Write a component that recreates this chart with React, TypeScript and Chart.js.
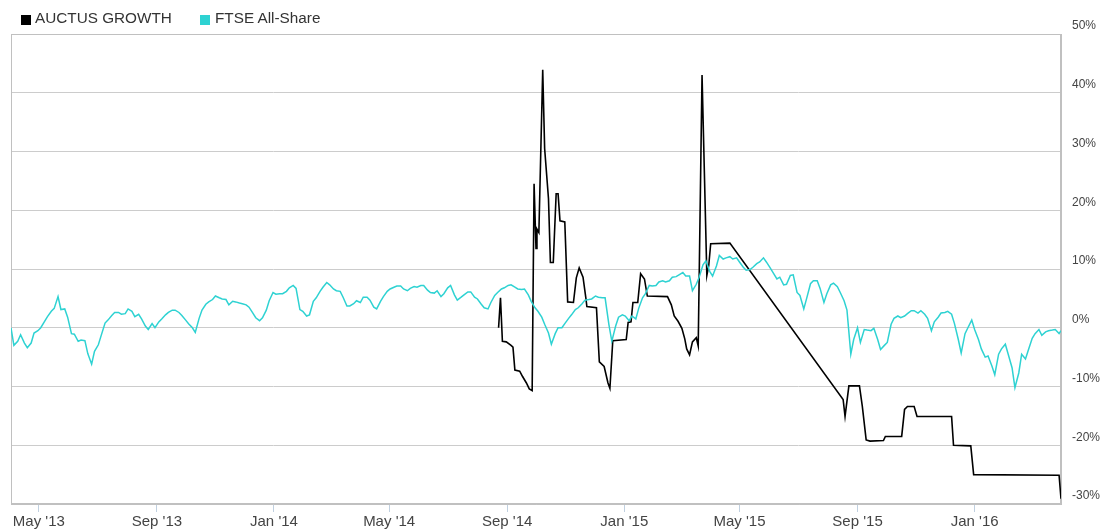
import { useEffect, useRef } from "react";
import { Chart, registerables } from "chart.js";

Chart.register(...registerables);

const seriesNames = ["AUCTUS GROWTH", "FTSE All-Share"];
const seriesColors = ["#000000", "#2ED2D2"];

const ftseDates = [
  "2013-04-02", "2013-04-05", "2013-04-09", "2013-04-12", "2013-04-16", "2013-04-19", "2013-04-23", "2013-04-26", "2013-04-30",
  "2013-05-03", "2013-05-07", "2013-05-10", "2013-05-14", "2013-05-17", "2013-05-21", "2013-05-24", "2013-05-28", "2013-05-31",
  "2013-06-04", "2013-06-07", "2013-06-11", "2013-06-14", "2013-06-18", "2013-06-21", "2013-06-25", "2013-06-28",
  "2013-07-02", "2013-07-05", "2013-07-09", "2013-07-12", "2013-07-16", "2013-07-19", "2013-07-23", "2013-07-26", "2013-07-30",
  "2013-08-02", "2013-08-06", "2013-08-09", "2013-08-13", "2013-08-16", "2013-08-20", "2013-08-23", "2013-08-27", "2013-08-30",
  "2013-09-03", "2013-09-06", "2013-09-10", "2013-09-13", "2013-09-17", "2013-09-20", "2013-09-24", "2013-09-27",
  "2013-10-01", "2013-10-04", "2013-10-08", "2013-10-11", "2013-10-15", "2013-10-18", "2013-10-22", "2013-10-25", "2013-10-29",
  "2013-11-01", "2013-11-05", "2013-11-08", "2013-11-12", "2013-11-15", "2013-11-19", "2013-11-22", "2013-11-26", "2013-11-29",
  "2013-12-03", "2013-12-06", "2013-12-10", "2013-12-13", "2013-12-17", "2013-12-20", "2013-12-24", "2013-12-27", "2013-12-31",
  "2014-01-03", "2014-01-07", "2014-01-10", "2014-01-14", "2014-01-17", "2014-01-21", "2014-01-24", "2014-01-28", "2014-01-31",
  "2014-02-04", "2014-02-07", "2014-02-11", "2014-02-14", "2014-02-18", "2014-02-21", "2014-02-25", "2014-02-28",
  "2014-03-04", "2014-03-07", "2014-03-11", "2014-03-14", "2014-03-18", "2014-03-21", "2014-03-25", "2014-03-28",
  "2014-04-01", "2014-04-04", "2014-04-08", "2014-04-11", "2014-04-15", "2014-04-18", "2014-04-22", "2014-04-25", "2014-04-29",
  "2014-05-02", "2014-05-06", "2014-05-09", "2014-05-13", "2014-05-16", "2014-05-20", "2014-05-23", "2014-05-27", "2014-05-30",
  "2014-06-03", "2014-06-06", "2014-06-10", "2014-06-13", "2014-06-17", "2014-06-20", "2014-06-24", "2014-06-27",
  "2014-07-01", "2014-07-04", "2014-07-08", "2014-07-11", "2014-07-15", "2014-07-18", "2014-07-22", "2014-07-25", "2014-07-29",
  "2014-08-01", "2014-08-05", "2014-08-08", "2014-08-12", "2014-08-15", "2014-08-19", "2014-08-22", "2014-08-26", "2014-08-29",
  "2014-09-02", "2014-09-05", "2014-09-09", "2014-09-12", "2014-09-16", "2014-09-19", "2014-09-23", "2014-09-26", "2014-09-30",
  "2014-10-03", "2014-10-07", "2014-10-10", "2014-10-14", "2014-10-17", "2014-10-21", "2014-10-24", "2014-10-28", "2014-10-31",
  "2014-11-04", "2014-11-07", "2014-11-11", "2014-11-14", "2014-11-18", "2014-11-21", "2014-11-25", "2014-11-28",
  "2014-12-02", "2014-12-05", "2014-12-09", "2014-12-12", "2014-12-16", "2014-12-19", "2014-12-23", "2014-12-26", "2014-12-30",
  "2015-01-02", "2015-01-06", "2015-01-09", "2015-01-13", "2015-01-16", "2015-01-20", "2015-01-23", "2015-01-27", "2015-01-30",
  "2015-02-03", "2015-02-06", "2015-02-10", "2015-02-13", "2015-02-17", "2015-02-20", "2015-02-24", "2015-02-27",
  "2015-03-03", "2015-03-06", "2015-03-10", "2015-03-13", "2015-03-17", "2015-03-20", "2015-03-24", "2015-03-27", "2015-03-31",
  "2015-04-03", "2015-04-07", "2015-04-10", "2015-04-14", "2015-04-17", "2015-04-21", "2015-04-24", "2015-04-28",
  "2015-05-01", "2015-05-05", "2015-05-08", "2015-05-12", "2015-05-15", "2015-05-19", "2015-05-22", "2015-05-26", "2015-05-29",
  "2015-06-02", "2015-06-05", "2015-06-09", "2015-06-12", "2015-06-16", "2015-06-19", "2015-06-23", "2015-06-26", "2015-06-30",
  "2015-07-03", "2015-07-07", "2015-07-10", "2015-07-14", "2015-07-17", "2015-07-21", "2015-07-24", "2015-07-28", "2015-07-31",
  "2015-08-04", "2015-08-07", "2015-08-11", "2015-08-14", "2015-08-18", "2015-08-21", "2015-08-25", "2015-08-28",
  "2015-09-01", "2015-09-04", "2015-09-08", "2015-09-11", "2015-09-15", "2015-09-18", "2015-09-22", "2015-09-25", "2015-09-29",
  "2015-10-02", "2015-10-06", "2015-10-09", "2015-10-13", "2015-10-16", "2015-10-20", "2015-10-23", "2015-10-27", "2015-10-30",
  "2015-11-03", "2015-11-06", "2015-11-10", "2015-11-13", "2015-11-17", "2015-11-20", "2015-11-24", "2015-11-27",
  "2015-12-01", "2015-12-04", "2015-12-08", "2015-12-11", "2015-12-15", "2015-12-18", "2015-12-22", "2015-12-25", "2015-12-29",
  "2016-01-01", "2016-01-05", "2016-01-08", "2016-01-12", "2016-01-15", "2016-01-19", "2016-01-22", "2016-01-26", "2016-01-29",
  "2016-02-02", "2016-02-05", "2016-02-09", "2016-02-12", "2016-02-16", "2016-02-19", "2016-02-23", "2016-02-26",
  "2016-03-01", "2016-03-04", "2016-03-08", "2016-03-11", "2016-03-15", "2016-03-18", "2016-03-22", "2016-03-25", "2016-03-29", "2016-03-31",
];

const ftseValues = [
  0, -3.0, -2.3, -1.2, -2.6, -3.4, -2.6, -0.9, -0.5,
  0, 1.1, 1.9, 2.8, 3.3, 5.3, 3.1, 3.2, 1.8,
  -1.0, -1.1, -2.3, -2.1, -2.2, -4.4, -6.2, -4.0,
  -2.9, -1.3, 0.8, 1.3, 2.1, 2.6, 2.6, 2.3, 2.4,
  3.2, 2.8, 1.9, 2.3, 1.5, 0.3, -0.3, 0.7, 0,
  1.0, 1.5, 2.2, 2.6, 3.0, 3.0, 2.6, 2.1,
  1.3, 0.7, 0, -0.8, 1.6, 3.0, 4.0, 4.4, 4.8,
  5.4, 5.1, 4.9, 4.8, 3.9, 4.5, 4.4, 4.2, 4.1,
  3.9, 3.5, 2.5, 1.7, 1.2, 1.7, 3.0, 4.6, 6.0,
  5.7, 5.8, 5.8, 6.2, 6.8, 7.2, 6.7, 3.1, 2.8,
  2.0, 2.2, 4.5, 5.1, 6.2, 6.9, 7.7, 7.3,
  6.6, 6.3, 6.2, 5.2, 3.7, 3.7, 4.1, 4.6,
  4.3, 5.2, 5.2, 4.7, 3.5, 3.2, 4.5, 5.3, 6.2,
  6.6, 6.9, 7.1, 7.1, 6.6, 6.3, 6.7, 7.0, 6.9,
  7.2, 7.2, 6.4, 6.0, 5.9, 6.3, 5.3, 5.8,
  6.8, 7.2, 5.6, 4.7, 5.2, 5.6, 6.1, 6.1, 5.2,
  4.9, 4.0, 3.4, 3.2, 4.3, 5.5, 6.0, 6.6, 6.8,
  7.2, 7.3, 6.9, 6.6, 6.5, 6.6, 5.6, 4.5, 3.4,
  2.8, 1.8, 0.6, -0.9, -2.8, -1.0, 0, 0, 0.7,
  1.6, 2.2, 3.1, 3.4, 4.1, 4.7, 4.8, 4.9,
  5.4, 5.2, 5.1, 5.1, 0.5, -2.3, 0.3, 1.8, 2.2,
  2.0, 1.2, 2.0, 1.5, 3.3, 5.1, 5.8, 7.2, 7.1,
  7.2, 7.8, 8.0, 7.8, 8.0, 8.6, 8.7, 9.0,
  9.4, 8.8, 8.8, 6.3, 7.4, 8.6, 10.7, 11.4, 9.6,
  8.8, 10.5, 12.3, 11.7, 11.9, 12.1, 11.7, 11.9,
  11.2, 10.3, 9.8, 9.9, 10.3, 10.9, 11.2, 11.9, 11.2,
  10.2, 9.4, 8.3, 8.6, 7.3, 7.4, 8.9, 9.0, 6.0,
  5.5, 3.2, 5.0, 7.5, 8.0, 8.0, 6.7, 4.3, 5.8,
  7.3, 7.6, 7.0, 6.0, 4.6, 3.0, -4.5, -2.0,
  0, -2.5, -0.3, -0.4, -0.5, -0.1, -2.0, -3.7, -3.0,
  -2.5, 0.6, 1.6, 2.0, 1.7, 2.0, 2.4, 2.9, 2.9,
  2.5, 2.9, 2.3, 1.6, -0.5, 1.0, 1.8, 2.5,
  2.6, 2.8, 2.3, 0.7, -2.0, -4.3, -1.0, 0, 1.3,
  -0.3, -2.0, -3.6, -5.0, -4.8, -6.5, -8.0, -4.5, -3.6,
  -2.8, -4.5, -6.8, -10.2, -7.7, -4.5, -5.3, -3.8,
  -1.8, -1.0, -0.3, -1.3, -0.7, -0.5, -0.4, -0.3, -1.0, -0.5,
];

const auctusDates = [
  "2014-08-23", "2014-08-25", "2014-08-27", "2014-08-31", "2014-09-05", "2014-09-07",
  "2014-09-09", "2014-09-14", "2014-09-17", "2014-09-21", "2014-09-24", "2014-09-27",
  "2014-09-29", "2014-10-01", "2014-10-02", "2014-10-04", "2014-10-08", "2014-10-10",
  "2014-10-14", "2014-10-16", "2014-10-19", "2014-10-22", "2014-10-24", "2014-10-26",
  "2014-10-31", "2014-11-03", "2014-11-09", "2014-11-12", "2014-11-15", "2014-11-19",
  "2014-11-22", "2014-11-23", "2014-12-03", "2014-12-06", "2014-12-11", "2014-12-15",
  "2014-12-17", "2014-12-20", "2015-01-03", "2015-01-05", "2015-01-08", "2015-01-10",
  "2015-01-15", "2015-01-18", "2015-01-22", "2015-01-25", "2015-02-15", "2015-02-19",
  "2015-02-22", "2015-02-26", "2015-03-02", "2015-03-05", "2015-03-07", "2015-03-10",
  "2015-03-13", "2015-03-17", "2015-03-19", "2015-03-23", "2015-03-28", "2015-03-30",
  "2015-04-01", "2015-04-21", "2015-08-17", "2015-08-19", "2015-08-23", "2015-09-03",
  "2015-09-06", "2015-09-10", "2015-09-14", "2015-09-28", "2015-09-30", "2015-10-17",
  "2015-10-20", "2015-10-23", "2015-10-30", "2015-11-02", "2015-12-08", "2015-12-10",
  "2015-12-28", "2015-12-31", "2016-03-29", "2016-03-31",
];

const auctusValues = [
  0, 5.1, -2.3, -2.4, -3.0, -3.3,
  -7.2, -7.4, -8.3, -9.4, -10.4, -10.7,
  24.5, 13.5, 16.8, 16.2, 43.9, 30.5,
  22.0, 11.1, 11.1, 22.8, 22.8, 18.2,
  18.0, 4.4, 4.3, 8.5, 10.2, 8.6,
  5.0, 3.6, 3.4, -5.8, -6.6, -9.4,
  -10.3, -2.2, -2.0, 0.9, 1.0, 4.3,
  4.3, 9.2, 8.3, 5.4, 5.3, 3.9,
  2.0, 1.1, -0.1, -1.9, -3.6, -4.6,
  -2.4, -1.7, -3.1, 43.0, 8.9, 10.6,
  14.3, 14.4, -12.2, -15.1, -9.9, -9.9,
  -13.4, -19.1, -19.3, -19.2, -18.5, -18.5,
  -13.9, -13.4, -13.4, -15.1, -15.1, -20.0,
  -20.1, -25.0, -25.1, -29.1,
];

const xTickDates = [
  "2013-05-01", "2013-09-01", "2014-01-01", "2014-05-01", "2014-09-01",
  "2015-01-01", "2015-05-01", "2015-09-01", "2016-01-01",
];
const xTickLabels = [
  "May '13", "Sep '13", "Jan '14", "May '14", "Sep '14",
  "Jan '15", "May '15", "Sep '15", "Jan '16",
];
const xRange = ["2013-04-02", "2016-03-31"];
const yMin = -30;
const yMax = 50;
const yStep = 10;

const DAY = 86400000;
const toDay = (s: string) =>
  Date.UTC(+s.slice(0, 4), +s.slice(5, 7) - 1, +s.slice(8, 10)) / DAY;

const FONT = '"Liberation Sans", Arial, sans-serif';

const framePlugin = {
  id: "frame",
  beforeDatasetsDraw(chart: any) {
    const { ctx, chartArea: a } = chart;
    ctx.save();
    ctx.strokeStyle = "#C0C0C0";
    ctx.lineWidth = 1;
    ctx.strokeRect(
      Math.round(a.left) + 0.5,
      Math.round(a.top) + 0.5,
      Math.round(a.right - a.left) - 1,
      Math.round(a.bottom - a.top) - 1
    );
    ctx.restore();
  },
};

export default function App() {
  const ref = useRef<HTMLCanvasElement>(null);

  useEffect(() => {
    document.body.style.margin = "0";
    const canvas = ref.current!;
    const chart = new Chart(canvas, {
      type: "line",
      data: {
        datasets: [
          {
            label: seriesNames[0],
            data: auctusDates.map((d, i) => ({ x: toDay(d), y: auctusValues[i] })),
            borderColor: seriesColors[0],
            backgroundColor: seriesColors[0],
            borderWidth: 1.6,
            pointRadius: 0,
            tension: 0,
            order: 1,
          },
          {
            label: seriesNames[1],
            data: ftseDates.map((d, i) => ({ x: toDay(d), y: ftseValues[i] })),
            borderColor: seriesColors[1],
            backgroundColor: seriesColors[1],
            borderWidth: 1.5,
            pointRadius: 0,
            tension: 0,
            order: 0,
          },
        ],
      },
      options: {
        animation: false,
        responsive: false,
        devicePixelRatio: 1,
        layout: { padding: { left: 11, top: 34, right: 0, bottom: 0 } },
        plugins: { legend: { display: false }, tooltip: { enabled: false } },
        scales: {
          x: {
            type: "linear",
            min: toDay(xRange[0]),
            max: toDay(xRange[1]),
            afterBuildTicks: (scale: any) => {
              scale.ticks = xTickDates.map((d) => ({ value: toDay(d) }));
            },
            afterFit: (scale: any) => {
              scale.height = 26;
            },
            ticks: {
              autoSkip: false,
              maxRotation: 0,
              padding: 1,
              color: "#444",
              font: { family: FONT, size: 15 },
              callback: (_v: any, i: number) => xTickLabels[i],
            },
            grid: {
              drawOnChartArea: false,
              drawTicks: true,
              tickLength: 8,
              color: "#C0D0E0",
            },
            border: { display: true, color: "#C0C0C0" },
          },
          y: {
            position: "right",
            min: yMin,
            max: yMax,
            afterFit: (scale: any) => {
              scale.width = 43;
            },
            ticks: {
              stepSize: yStep,
              padding: 11,
              labelOffset: -8,
              color: "#444",
              font: { family: FONT, size: 12 },
              callback: (v: any) => v + "%",
            },
            grid: { color: "#CCCCCC", drawTicks: false, tickLength: 0 },
            border: { display: true, color: "#C0C0C0" },
          },
        },
      },
      plugins: [framePlugin],
    } as any);
    return () => chart.destroy();
  }, []);

  const legendText = { position: "absolute" as const, top: 10, font: `15.3px ${FONT}`, color: "#333", whiteSpace: "nowrap" as const, lineHeight: "16px" };
  const sq = (left: number, color: string) => ({ position: "absolute" as const, left, top: 15, width: 10, height: 10, background: color });

  return (
    <div style={{ position: "relative", width: 1104, height: 530, background: "#fff" }}>
      <canvas ref={ref} width={1104} height={530} style={{ display: "block" }} />
      <div style={sq(21, seriesColors[0])} />
      <div style={{ ...legendText, left: 35 }}>{seriesNames[0]}</div>
      <div style={sq(200, seriesColors[1])} />
      <div style={{ ...legendText, left: 215 }}>{seriesNames[1]}</div>
    </div>
  );
}
